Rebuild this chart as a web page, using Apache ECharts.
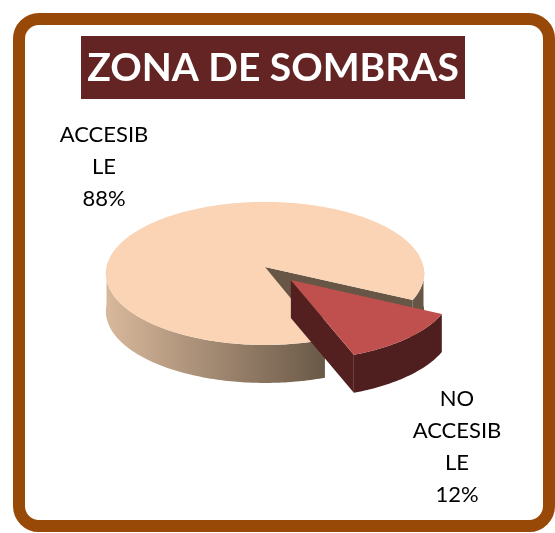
<!DOCTYPE html>
<html>
<head>
<meta charset="utf-8">
<script src="https://cdn.jsdelivr.net/npm/echarts@6/dist/echarts.min.js"></script>
<style>
  html, body { margin: 0; padding: 0; background: #fff; }
  #chart { width: 555px; height: 533px; }
</style>
</head>
<body>
<div id="chart"></div>
<script>
const titleText = 'ZONA DE SOMBRAS';
const categories = ['ACCESIBLE', 'NO ACCESIBLE'];
const values = [88, 12];
const labelNames = ['ACCESIB\nLE', 'NO\nACCESIB\nLE'];

// geometria del pastel 3D (con algo de perspectiva)
const CX = 265, CY = 267, RX = 158.5, RY = 71.5, DEPTH = 38, PERSP = 0.09;
const START = 69.6;          // grados, sentido horario desde las 3
const EXPLODE = [0, 0.24];

const topColors = ['#fad4b5', '#c0504d'];
const sideColors = [
  { type: 'linear', x: 105, y: 0, x2: 330, y2: 0, global: true,
    colorStops: [{ offset: 0, color: '#d9b99c' }, { offset: 1, color: '#675645' }] },
  '#4f1e1e'
];
const cutColors = ['#675645', '#531f1f'];

const total = values.reduce((a, b) => a + b, 0);
const rad = d => d * Math.PI / 180;

// u, v en radios sobre el disco -> pantalla
function proj(u, v, dz) {
  const s = 1 + PERSP * v;
  return [CX + RX * u * s, CY + RY * v * s + dz];
}
function pt(a, off, dz) {
  return proj(off[0] + Math.cos(rad(a)), off[1] + Math.sin(rad(a)), dz);
}
function arc(a0, a1, off, dz) {
  const n = Math.max(2, Math.ceil(Math.abs(a1 - a0)));
  const pts = [];
  for (let k = 0; k <= n; k++) pts.push(pt(a0 + (a1 - a0) * k / n, off, dz));
  return pts;
}

function renderItem(params, api) {
  const i = params.dataIndex;
  let acc = 0;
  for (let j = 0; j < i; j++) acc += api.value(1, j);
  const v = api.value(1);
  const a0 = START + 360 * acc / total;
  const a1 = a0 + 360 * v / total;
  const mid = (a0 + a1) / 2, e = EXPLODE[i];
  const off = [e * Math.cos(rad(mid)), e * Math.sin(rad(mid))];
  const c = proj(off[0], off[1], 0);
  const cb = proj(off[0], off[1], DEPTH);
  const children = [];

  // caras de corte (solo las que miran al frente)
  [[a0, -1], [a1, 1]].forEach(([a, s]) => {
    const front = s < 0 ? Math.cos(rad(a)) < 0 : Math.cos(rad(a)) > 0;
    if (!front) return;
    children.push({
      type: 'polygon',
      shape: { points: [c, pt(a, off, 0), pt(a, off, DEPTH), cb] },
      style: { fill: cutColors[i] }
    });
  });

  // pared exterior, mitad delantera
  for (let k = Math.floor(a0 / 360) * 360; k < a1; k += 360) {
    const s = Math.max(a0, k), t = Math.min(a1, k + 180);
    if (t <= s) continue;
    children.push({
      type: 'polygon',
      shape: { points: arc(s, t, off, 0).concat(arc(t, s, off, DEPTH)) },
      style: { fill: sideColors[i] }
    });
  }

  // cara superior
  children.push({
    type: 'polygon',
    shape: { points: [c].concat(arc(a0, a1, off, 0)) },
    style: { fill: topColors[i] }
  });
  return { type: 'group', children };
}

const labelFont = { fontFamily: 'Lato', fontSize: 22, lineHeight: 32, fill: '#000', align: 'center', verticalAlign: 'top' };
const labelPos = [[104, 119], [457, 383]];

const chart = echarts.init(document.getElementById('chart'));
chart.setOption({
  backgroundColor: '#fff',
  animation: false,
  graphic: [
    { type: 'rect', shape: { x: 19, y: 19, width: 530, height: 507, r: 20 },
      style: { fill: 'none', stroke: '#984807', lineWidth: 12 } },
    { type: 'rect', shape: { x: 81, y: 36, width: 384, height: 63 }, style: { fill: '#632423' } },
    { type: 'text', x: 273, y: 68,
      style: { text: titleText, fill: '#fff', fontFamily: 'Lato', fontWeight: 'bold', fontSize: 39,
               align: 'center', verticalAlign: 'middle' } }
  ].concat(categories.map((c, i) => ({
    type: 'text', x: labelPos[i][0], y: labelPos[i][1],
    style: Object.assign({ text: labelNames[i] + '\n' + Math.round(values[i] / total * 100) + '%' }, labelFont)
  }))),
  series: [{
    type: 'custom',
    coordinateSystem: 'none',
    silent: true,
    renderItem: renderItem,
    data: categories.map((c, i) => ({ name: c, value: [i, values[i]] }))
  }]
});
</script>
</body>
</html>
